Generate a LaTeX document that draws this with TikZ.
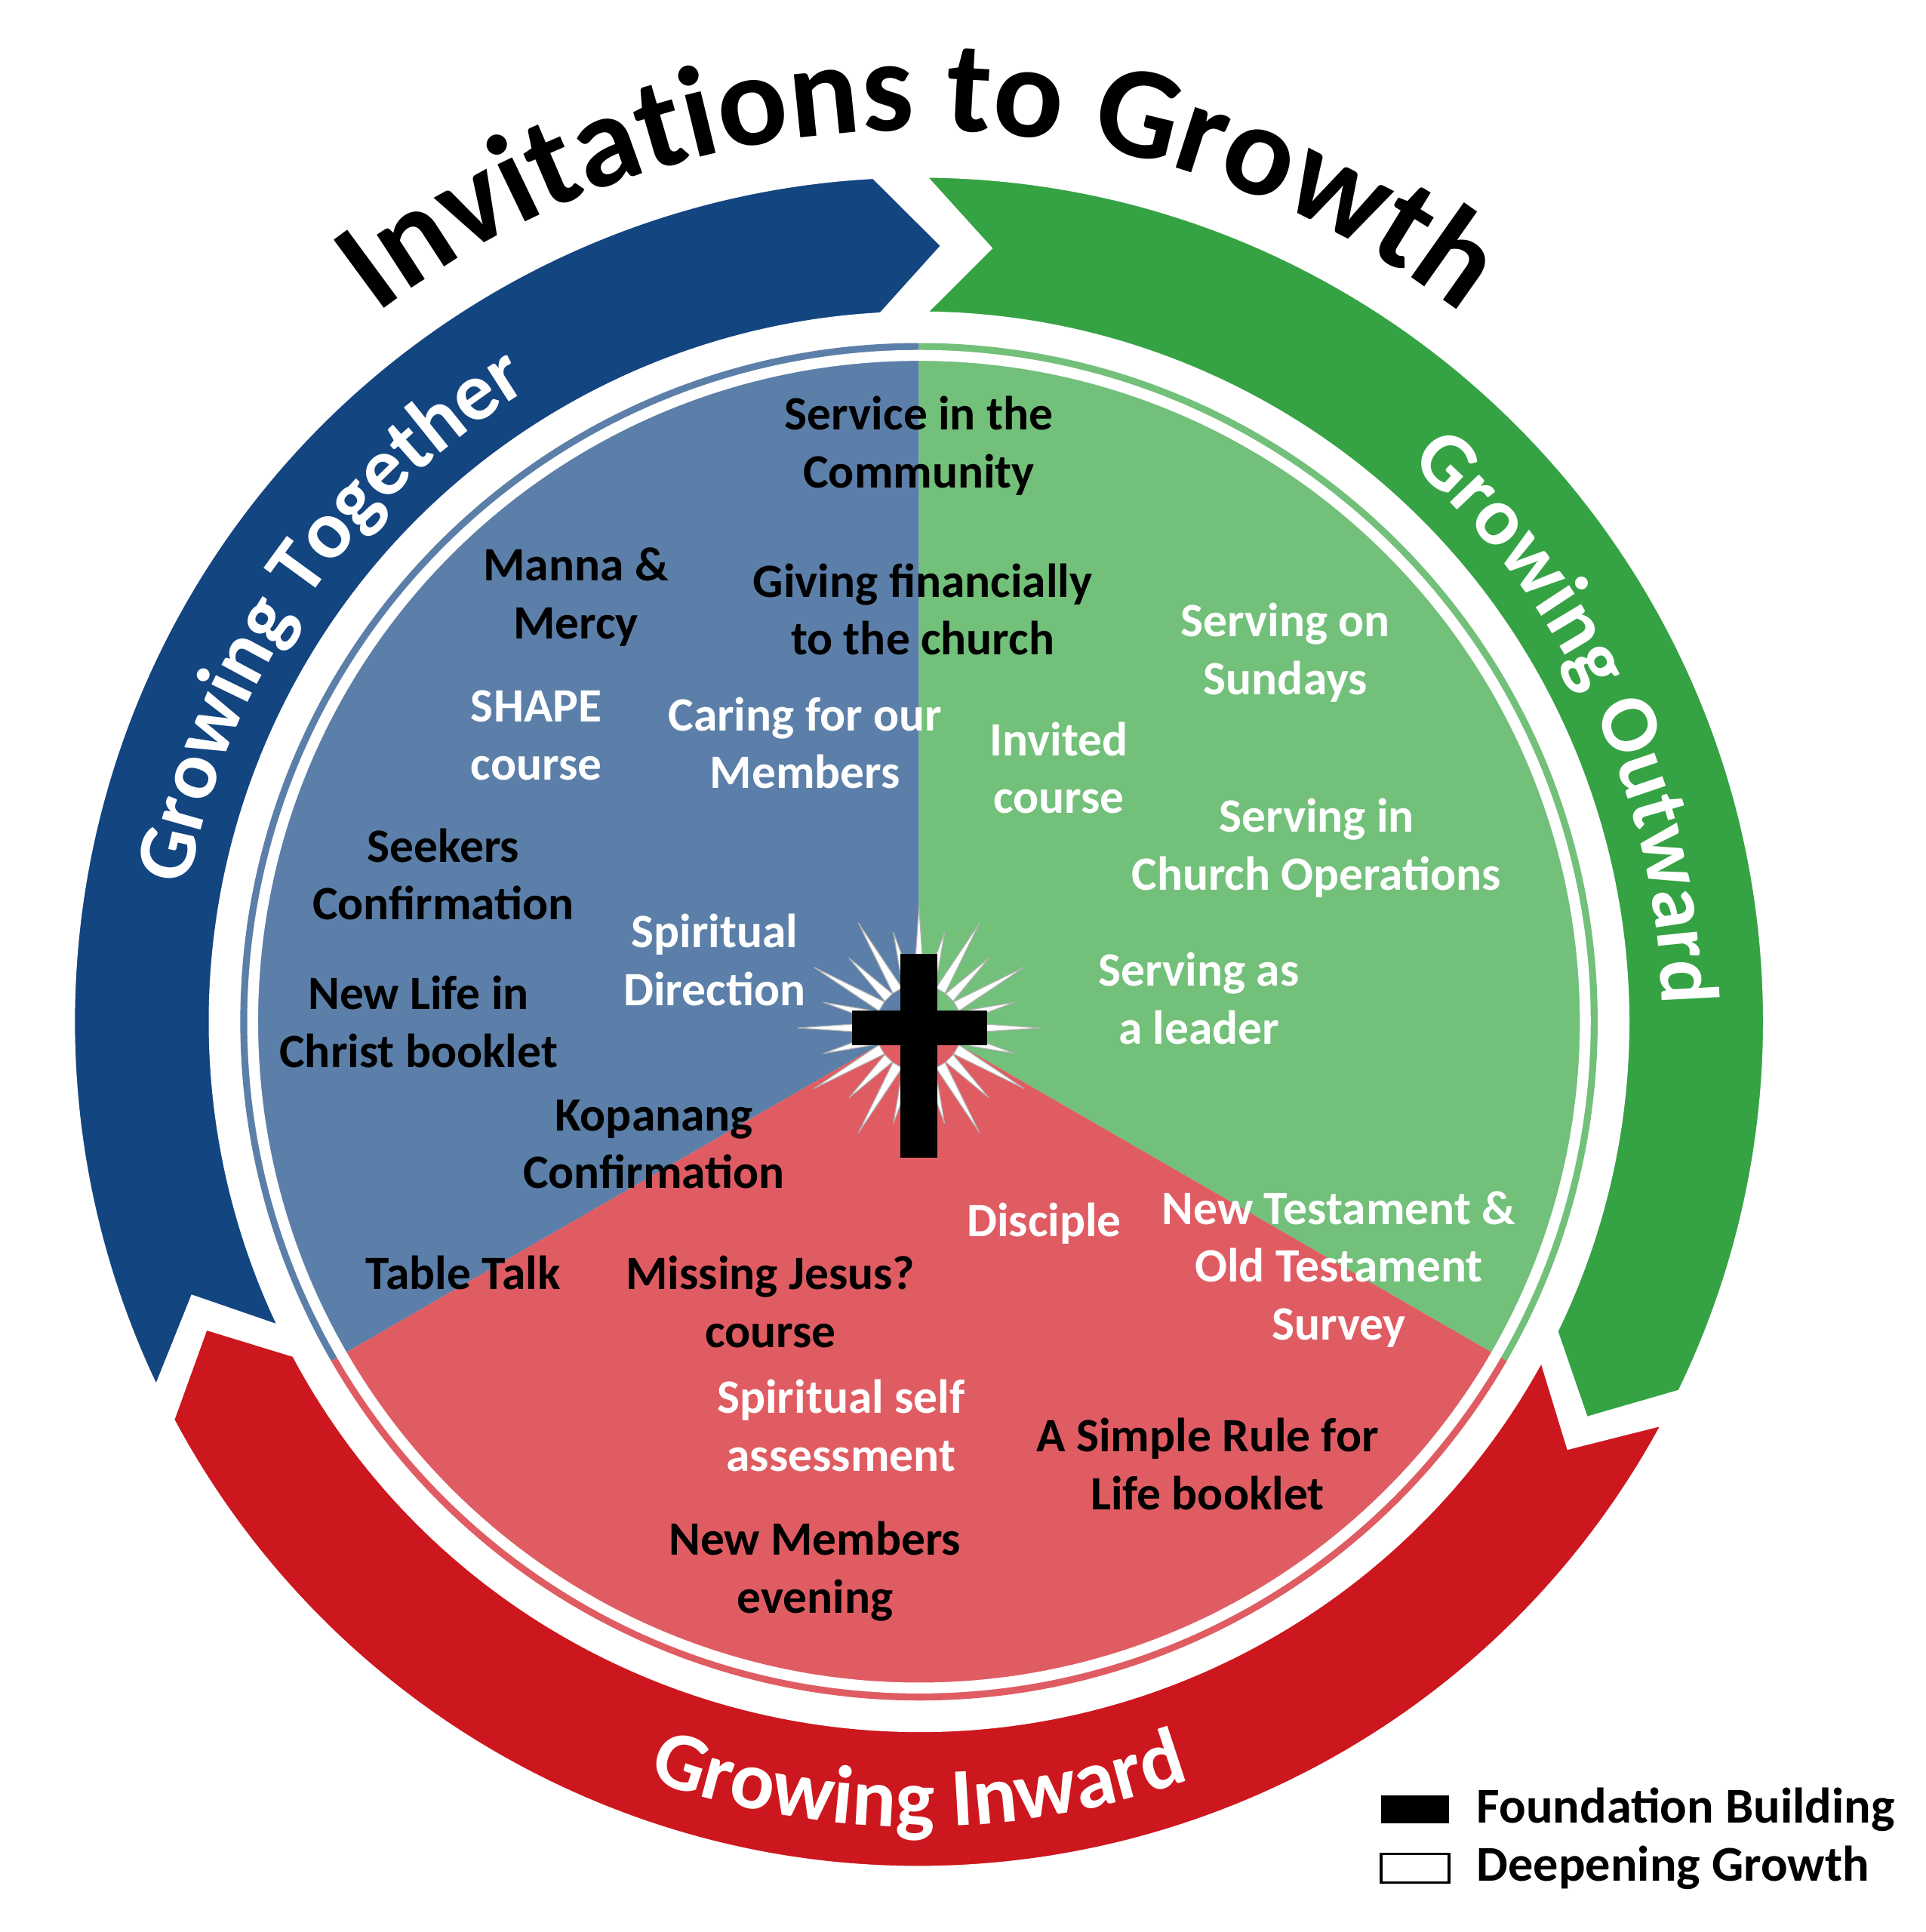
\documentclass[tikz,border=0pt]{standalone}
\usepackage{fontspec}
\setmainfont{Carlito}
\usepackage{tikz}
\usetikzlibrary{calc}
\usetikzlibrary{positioning}
\usetikzlibrary{decorations.text}

\definecolor{blueRing}{HTML}{134581}
\definecolor{blueSec}{HTML}{5B7FA8}
\definecolor{greenRing}{HTML}{35A244}
\definecolor{greenSec}{HTML}{72C07A}
\definecolor{redRing}{HTML}{CD171E}
\definecolor{redSec}{HTML}{E05C63}

\newcommand{\ringSeg}[3]{%
  \draw[white, line width=2pt, fill=#3]
    (#1:6.85) arc (#1:#2:6.85) -- ({#2-5}:6.27) -- (#2:5.7)
    arc (#2:#1:5.7) -- ({#1-5}:6.27) -- cycle;
}

\begin{document}
\begin{tikzpicture}[%
  lbl/.style={font=\bfseries\fontsize{11}{13.3}\selectfont, align=center},
  dark/.style={lbl, text=black},
  light/.style={lbl, text=white}
]

  \useasboundingbox (0,0) rectangle (15.55,15.6);

  \begin{scope}[shift={(7.42,7.35)}]
    \ringSeg{206}{93}{blueRing}
    \ringSeg{90}{-26}{greenRing}
    \ringSeg{-28}{-152}{redRing}

    \fill[blueSec] (0,0) -- (90:5.48) arc (90:210:5.48) -- cycle;
    \fill[greenSec] (0,0) -- (90:5.48) arc (90:-30:5.48) -- cycle;
    \fill[redSec] (0,0) -- (210:5.48) arc (210:330:5.48) -- cycle;
    \draw[white, line width=2.5pt] (0,0) circle (5.38);

    \foreach \a [count=\i] in {0,15,...,345} {
      \pgfmathsetmacro{\len}{mod(\i,2)==0 ? 0.8 : 0.98}
      \fill[white, draw=black!30, line width=0.2pt]
        ($(0,-0.05)+(\a-7:0.35)$) -- ($(0,-0.05)+(\a:\len)$)
        -- ($(0,-0.05)+(\a+7:0.35)$) -- cycle;
    }
    \fill[black] (-0.15,0.55) rectangle (0.15,-1.1);
    \fill[black] (-0.54,0.09) rectangle (0.55,-0.19);

    \path[decorate, decoration={text along path, text align=center,
      text={|\bfseries\fontsize{30}{36}\selectfont|Invitations to Growth}}]
      (133:7.2) arc (133:47:7.2);
    \path[decorate, decoration={text along path, text align=center,
      text color=white,
      text={|\bfseries\fontsize{19}{23}\selectfont|Growing Together}}]
      (174:6.0) arc (174:117:6.0);
    \path[decorate, decoration={text along path, text align=center,
      text color=white,
      text={|\bfseries\fontsize{19}{23}\selectfont|Growing Outward}}]
      (52:6.0) arc (52:-2:6.0);
    \path[decorate, decoration={text along path, text align=center,
      text color=white,
      text={|\bfseries\fontsize{19}{23}\selectfont|Growing Inward}}]
      (243:6.5) arc (243:297:6.5);
  \end{scope}

  \node[dark] (service) at (7.42,12.0) {Service in the\\Community};
  \node[dark] (manna) at (4.65,10.78) {Manna \&\\Mercy};
  \node[dark] (giving) at (7.45,10.68) {Giving financially\\to the church};
  \node[light] (sundays) at (10.38,10.33) {Serving on\\Sundays};
  \node[light] (shape) at (4.33,9.66) {SHAPE\\course};
  \node[light] (caring) at (6.5,9.6) {Caring for our\\Members};
  \node[light] (invited) at (8.55,9.4) {Invited\\course};
  \node[light] (operations) at (10.63,8.75) {Serving in\\Church Operations};
  \node[dark] (seekers) at (3.58,8.54) {Seekers\\Confirmation};
  \node[light] (direction) at (5.77,7.85) {Spiritual\\Direction};
  \node[light] (leader) at (9.68,7.54) {Serving as\\a leader};
  \node[dark] (newlife) at (3.38,7.35) {New Life in\\Christ booklet};
  \node[dark] (kopanang) at (5.28,6.36) {Kopanang\\Confirmation};
  \node[light] (disciple) at (8.43,5.72) {Disciple};
  \node[light] (survey) at (10.81,5.35) {New Testament \&\\Old Testament\\Survey};
  \node[dark] (tabletalk) at (3.74,5.32) {Table Talk};
  \node[dark] (missing) at (6.22,5.09) {Missing Jesus?\\course};
  \node[light] (selfassess) at (6.79,4.09) {Spiritual self\\assessment};
  \node[dark] (rule) at (9.75,3.78) {A Simple Rule for\\Life booklet};
  \node[dark] (members) at (6.58,2.91) {New Members\\evening};

  \fill[black] (11.15,0.88) rectangle (11.7,1.1);
  \draw[black, line width=0.6pt] (11.15,0.4) rectangle (11.7,0.63);
  \node[dark, anchor=west, font=\bfseries\fontsize{11.5}{14}\selectfont]
    (foundation) at (11.8,0.99) {Foundation Building};
  \node[dark, anchor=west, font=\bfseries\fontsize{11.5}{14}\selectfont]
    (deepening) at (11.8,0.52) {Deepening Growth};

\end{tikzpicture}
\end{document}
